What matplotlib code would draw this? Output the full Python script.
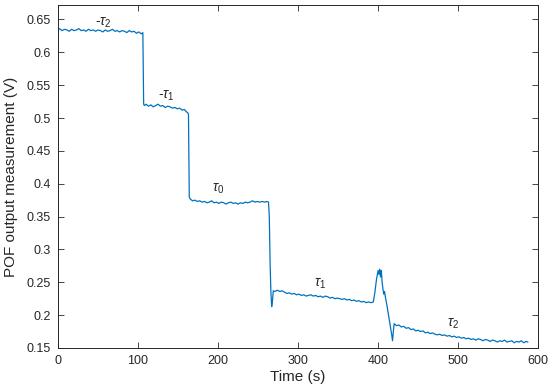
import matplotlib
matplotlib.use("Agg")
import matplotlib.pyplot as plt
import numpy as np

# time (s) and POF output (V)
t_seg1 = [0, 2, 5, 8, 11, 14, 17, 20, 23, 26, 29, 32, 35, 38, 41, 44, 47, 50, 53, 56, 59,
          62, 65, 68, 71, 74, 77, 80, 83, 86, 89, 92, 95, 98, 101, 104, 106]
v_seg1 = [.634, .636, .633, .635, .634, .632, .635, .633, .634, .636, .633, .634, .632, .635,
          .633, .634, .632, .634, .633, .631, .634, .632, .633, .635, .632, .633, .631, .633,
          .632, .630, .633, .631, .632, .629, .631, .628, .630]

t_seg2 = [107, 108, 110, 113, 116, 119, 122, 125, 128, 131, 134, 137, 140, 143, 146, 149,
          152, 155, 158, 160, 162, 163]
v_seg2 = [.521, .519, .521, .518, .520, .517, .519, .521, .518, .519, .516, .518, .517, .515,
          .516, .514, .515, .512, .513, .510, .508, .506]

t_seg3 = [164, 165, 168, 171, 174, 177, 180, 183, 186, 189, 192, 195, 198, 201, 204, 207,
          210, 213, 216, 219, 222, 225, 228, 231, 234, 237, 240, 243, 246, 249, 252, 255,
          258, 261, 263]
v_seg3 = [.380, .377, .374, .375, .373, .374, .372, .373, .371, .372, .374, .371, .372, .370,
          .372, .371, .369, .371, .372, .370, .371, .369, .371, .370, .372, .371, .372, .374,
          .372, .373, .372, .373, .372, .373, .372]

t_seg4 = [264, 265, 266, 267, 268, 269, 271, 274, 277, 280, 283, 286, 289, 292, 295, 298,
          301, 304, 307, 310, 313, 316, 319, 322, 325, 328, 331, 334, 337, 340, 343, 346,
          349, 352, 355, 358, 361, 364, 367, 370, 373, 376, 379, 382, 385, 388, 391, 394]
v_seg4 = [.350, .280, .235, .213, .222, .237, .236, .238, .236, .237, .235, .233, .234, .232,
          .233, .231, .232, .230, .231, .229, .230, .231, .229, .230, .228, .229, .227, .229,
          .228, .226, .227, .225, .226, .225, .224, .225, .223, .224, .222, .223, .221, .222,
          .220, .221, .219, .220, .219, .220]

t_spike = [396, 398, 400, 401, 402, 403, 404, 405, 406, 407, 408, 409, 411, 413, 415, 417,
           418, 419]
v_spike = [.235, .255, .268, .262, .270, .258, .268, .250, .240, .232, .236, .228, .215, .200,
           .185, .170, .161, .175]

t_seg5 = [420, 423, 426, 429, 432, 435, 438, 441, 444, 447, 450, 453, 456, 459, 462, 465,
          468, 471, 474, 477, 480, 483, 486, 489, 492, 495, 498, 501, 504, 507, 510, 513,
          516, 519, 522, 525, 528, 531, 534, 537, 540, 543, 546, 549, 552, 555, 558, 561,
          564, 567, 570, 573, 576, 579, 582, 585, 587]
v_seg5 = [.187, .184, .185, .182, .183, .180, .181, .178, .179, .176, .177, .175, .176, .173,
          .174, .172, .173, .171, .170, .171, .169, .170, .168, .169, .167, .168, .166, .167,
          .165, .166, .164, .165, .163, .164, .162, .164, .163, .161, .163, .162, .160, .162,
          .161, .159, .161, .160, .162, .159, .160, .161, .158, .160, .159, .161, .158, .160,
          .159]

labels = [r'-$\tau_2$', r'-$\tau_1$', r'$\tau_0$', r'$\tau_1$', r'$\tau_2$']
label_x = [46, 125.5, 193, 320, 486.5]
label_y = [0.641, 0.529, 0.388, 0.243, 0.182]

yticks = [0.15, 0.2, 0.25, 0.3, 0.35, 0.4, 0.45, 0.5, 0.55, 0.6, 0.65]
ytick_labels = ['0.15', '0.2', '0.25', '0.3', '0.35', '0.4', '0.45', '0.5', '0.55', '0.6', '0.65']

t = np.array(t_seg1 + t_seg2 + t_seg3 + t_seg4 + t_spike + t_seg5)
v = np.array(v_seg1 + v_seg2 + v_seg3 + v_seg4 + v_spike + v_seg5)

plt.rcParams['font.family'] = ['Liberation Sans', 'DejaVu Sans']
plt.rcParams['mathtext.fontset'] = 'custom'
plt.rcParams['mathtext.rm'] = 'Liberation Sans'
plt.rcParams['mathtext.it'] = 'Liberation Sans:italic'

dark = '#262626'
fig = plt.figure(figsize=(5.5, 3.9), dpi=100)
ax = fig.add_axes([0.1055, 0.1077, 0.873, 0.8795])
ax.plot(t, v, color='#0072BD', lw=0.9)

for s, x, y in zip(labels, label_x, label_y):
    ax.text(x, y, s, fontsize=10, color=dark, ha='left', va='baseline')

ax.set_xlim(0, 600)
ax.set_ylim(0.15, 0.672)
ax.set_xticks(range(0, 601, 100))
ax.set_yticks(yticks)
ax.set_yticklabels(ytick_labels)
ax.tick_params(direction='in', top=True, right=True, length=4, width=0.6,
               labelsize=9, colors=dark, pad=5)
for sp in ax.spines.values():
    sp.set_color(dark)
    sp.set_linewidth(0.7)
ax.set_xlabel('Time (s)', fontsize=11, color=dark, labelpad=2)
ax.set_ylabel('POF output measurement (V)', fontsize=11, color=dark, labelpad=6)

fig.savefig('out.png', dpi=100)
